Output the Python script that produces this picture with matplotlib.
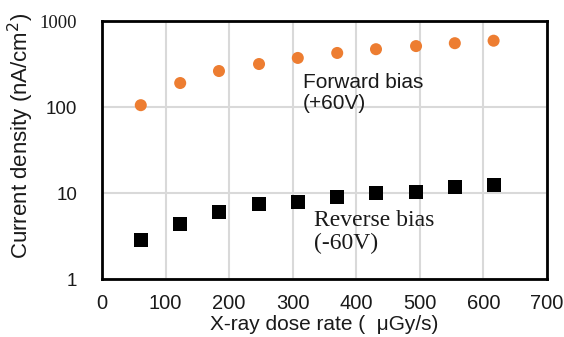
import numpy as np
import matplotlib.pyplot as plt

# dose rate (uGy/s)
dose_rate = [61, 123, 184, 247, 308, 370, 431, 494, 555, 616]
# current density (nA/cm^2)
forward_bias = [105, 190, 262, 316, 372, 425, 470, 511, 552, 590]
reverse_bias = [2.84, 4.36, 6.0, 7.4, 7.9, 9.0, 10.0, 10.3, 11.7, 12.4]

x_ticks = [0, 100, 200, 300, 400, 500, 600, 700]
y_ticks = [1, 10, 100, 1000]

plt.rcParams['font.family'] = ['Liberation Sans', 'DejaVu Sans']
txt_color = '#1a1a1a'

fig = plt.figure(figsize=(5.64, 3.37), dpi=100)
ax = fig.add_axes([102 / 564, 1 - 279 / 337, 445 / 564, 258 / 337])

ax.scatter(dose_rate, forward_bias, marker='o', s=75, color='#ED7D31',
           edgecolors='none', zorder=3)
ax.scatter(dose_rate, reverse_bias, marker='s', s=100, color='black',
           edgecolors='none', zorder=3)

ax.set_yscale('log')
ax.set_xlim(0, 700)
ax.set_ylim(1, 1000)
ax.set_xticks(x_ticks)
ax.set_yticks(y_ticks)
ax.set_yticklabels([str(v) for v in y_ticks])
ax.minorticks_off()
ax.tick_params(axis='both', length=0, colors=txt_color)
ax.tick_params(axis='x', pad=11, labelsize=14.5)
ax.tick_params(axis='y', pad=18, labelsize=13.5)
# top label looks like a serif face in the original
ax.get_yticklabels()[-1].set_family('Liberation Serif')

ax.grid(True, color='#D9D9D9', linewidth=1.5)
ax.set_axisbelow(True)
for sp in ax.spines.values():
    sp.set_linewidth(2)
    sp.set_color('black')

# x label sits right at the bottom edge, as in the source figure
ax.set_xlabel('X-ray dose rate (  \u03bcGy/s)', fontsize=15, color=txt_color)
ax.set_ylabel('Current density (nA/cm$^2$)', fontsize=16, color=txt_color)
ax.xaxis.set_label_coords(0.5, -0.138)
ax.yaxis.set_label_coords(-0.148, 0.554)

ax.text(316, 248, 'Forward bias\n(+60V)', fontsize=15, color=txt_color,
        va='top', ha='left', linespacing=1.1)
ax.text(333, 6.3, 'Reverse bias\n(-60V)', fontsize=17, color=txt_color,
        va='top', ha='left', family='Liberation Serif', linespacing=1.1)

fig.savefig('out.png', dpi=100)
